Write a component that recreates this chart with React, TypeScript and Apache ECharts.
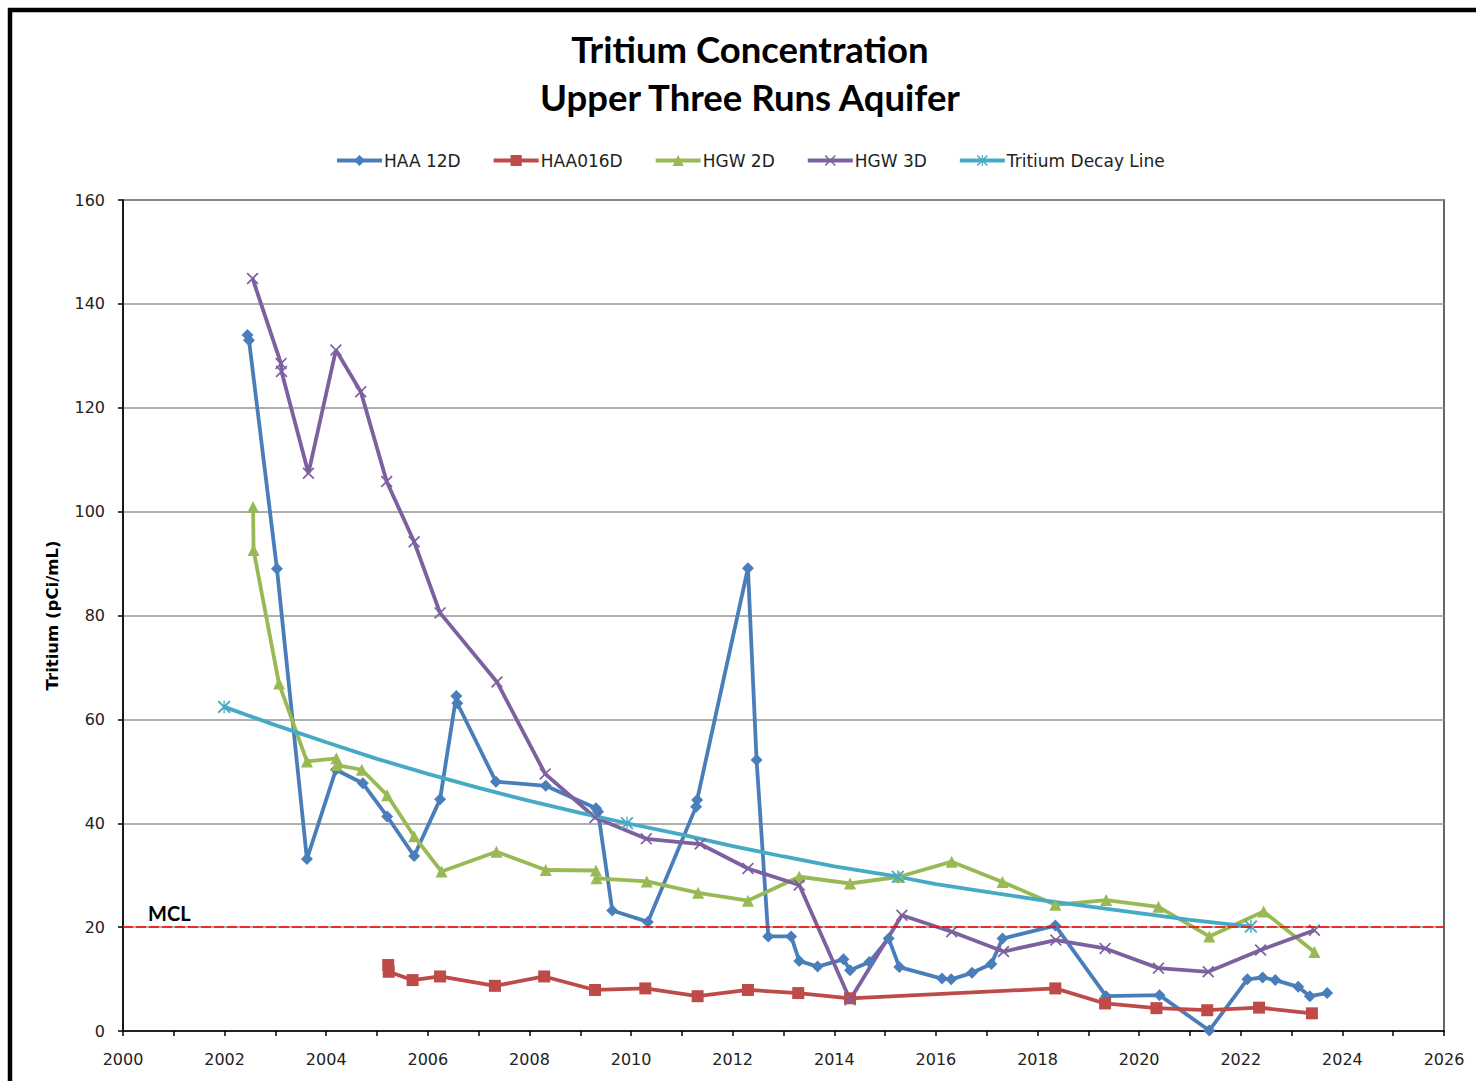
import React, { useEffect, useRef } from "react";
import * as echarts from "echarts";

// ---- Data ----
const haa12d: [number, number][] = [
  [2002.45, 134], [2002.48, 133], [2003.03, 89], [2003.62, 33.1], [2004.19, 50.3],
  [2004.72, 47.7], [2005.2, 41.3], [2005.73, 33.7], [2006.24, 44.6], [2006.56, 64.5],
  [2006.58, 63.1], [2007.34, 48], [2008.32, 47.2], [2009.31, 42.9], [2009.35, 42.2],
  [2009.63, 23.2], [2010.33, 21.0], [2011.28, 43.2], [2011.3, 44.5], [2012.3, 89.1],
  [2012.47, 52.2], [2012.7, 18.2], [2013.15, 18.2], [2013.31, 13.5], [2013.67, 12.4],
  [2014.18, 13.8], [2014.31, 11.7], [2014.69, 13.3], [2015.07, 17.8], [2015.28, 12.3],
  [2016.12, 10.1], [2016.3, 9.95], [2016.71, 11.2], [2017.09, 12.9], [2017.31, 17.8],
  [2018.35, 20.3], [2019.35, 6.7], [2020.4, 6.9], [2021.38, 0.1], [2022.13, 9.95],
  [2022.43, 10.3], [2022.68, 9.8], [2023.13, 8.5], [2023.36, 6.7], [2023.7, 7.3],
];

const haa016d: [number, number][] = [
  [2005.22, 12.7], [2005.23, 11.4], [2005.7, 9.8], [2006.24, 10.5], [2007.32, 8.7],
  [2008.29, 10.5], [2009.29, 7.9], [2010.28, 8.2], [2011.31, 6.7], [2012.3, 7.9],
  [2013.29, 7.3], [2014.31, 6.3], [2018.35, 8.2], [2019.33, 5.3], [2020.34, 4.4],
  [2021.34, 4.0], [2022.36, 4.5], [2023.4, 3.4],
];

const hgw2d: [number, number][] = [
  [2002.56, 100.9], [2002.57, 92.6], [2003.07, 66.9], [2003.62, 51.9], [2004.2, 52.5],
  [2004.21, 51.2], [2004.7, 50.3], [2005.2, 45.4], [2005.73, 37.5], [2006.27, 30.7],
  [2007.35, 34.5], [2008.32, 31.0], [2009.31, 30.9], [2009.32, 29.4], [2010.31, 28.8],
  [2011.32, 26.6], [2012.3, 25.1], [2013.31, 29.7], [2014.31, 28.4], [2015.28, 29.7],
  [2016.31, 32.6], [2017.31, 28.7], [2018.35, 24.3], [2019.35, 25.2], [2020.38, 23.9],
  [2021.38, 18.2], [2022.45, 23.0], [2023.45, 15.2],
];

const hgw3d: [number, number][] = [
  [2002.55, 144.9], [2003.11, 128.5], [2003.12, 127], [2003.65, 107.4], [2004.19, 131.1],
  [2004.68, 123.1], [2005.19, 105.8], [2005.73, 94.2], [2006.24, 80.5], [2007.36, 67.2],
  [2008.31, 49.5], [2009.29, 41.1], [2010.3, 37.0], [2011.36, 36.0], [2012.3, 31.3],
  [2013.31, 28.1], [2014.31, 6.0], [2015.33, 22.3], [2016.31, 19.1], [2017.33, 15.3],
  [2018.36, 17.5], [2019.33, 15.9], [2020.38, 12.1], [2021.36, 11.4], [2022.39, 15.6],
  [2023.45, 19.4],
];

// decay line: marked points and unmarked points along the drawn curve
const decayMarked: [number, number][] = [
  [2001.99, 62.4], [2009.92, 40.0], [2015.25, 29.7], [2022.2, 20.1],
];
const decayCurve: [number, number][] = [
  [2003, 58.9], [2004, 55.6], [2005, 52.4], [2006, 49.5], [2007, 46.8], [2008, 44.3],
  [2009, 42.0], [2011, 37.8], [2012, 35.6], [2013, 33.6], [2014, 31.7],
  [2016, 28.3], [2017, 26.8], [2018, 25.3], [2019, 24.0], [2020, 22.7], [2021, 21.4],
];

const mclValue = 20;
const yearTicks = { min: 2000, max: 2026, step: 2 };
const valueTicks = { min: 0, max: 160, step: 20 };

const titleLines = ["Tritium Concentration", "Upper Three Runs Aquifer"];
const seriesNames = ["HAA 12D", "HAA016D", "HGW 2D", "HGW 3D", "Tritium Decay Line"];

// ---- Styles ----
const C_BLUE = "#4A7EBB";
const C_RED = "#BE4B48";
const C_GREEN = "#98B954";
const C_PURPLE = "#7D60A0";
const C_CYAN = "#46AAC5";

const X_SYMBOL =
  "path://M2,0 L10,8 L18,0 L20,2 L12,10 L20,18 L18,20 L10,12 L2,20 L0,18 L8,10 L0,2 Z";
const STAR_SYMBOL =
  "path://M2,0 L10,8 L18,0 L20,2 L12,10 L20,18 L18,20 L10,12 L2,20 L0,18 L8,10 L0,2 Z M9,0 L11,0 L11,20 L9,20 Z";

export default function App() {
  const ref = useRef<HTMLDivElement>(null);

  useEffect(() => {
    if (!ref.current) return;
    const chart = echarts.init(ref.current, undefined, { renderer: "svg" });

    const lineBase = (name: string, data: any[], color: string, symbol: string, size: number) => ({
      name,
      type: "line",
      data,
      symbol,
      symbolSize: size,
      showSymbol: true,
      lineStyle: { color, width: 3.8 },
      itemStyle: { color, borderColor: color, borderWidth: 0 },
      emphasis: { disabled: true },
    });

    const decayData = [
      ...decayMarked.map((p) => ({ value: p })),
      ...decayCurve.map((p) => ({ value: p, symbol: "none" })),
    ].sort((a, b) => a.value[0] - b.value[0]);

    const titleStyle = {
      fontFamily: "Lato",
      fontWeight: "bold",
      fontSize: 36.5,
      fill: "#000",
      textAlign: "center",
      textVerticalAlign: "middle",
    };

    const option: any = {
      animation: false,
      backgroundColor: "#ffffff",
      graphic: [
        {
          type: "rect",
          shape: { x: 10, y: 10, width: 1500, height: 1100 },
          style: { fill: "none", stroke: "#000", lineWidth: 4.5 },
          silent: true,
        },
        { type: "text", x: 750, y: 49, style: { ...titleStyle, text: titleLines[0] } },
        { type: "text", x: 750, y: 97, style: { ...titleStyle, text: titleLines[1] } },
      ],
      legend: {
        data: seriesNames,
        left: 330,
        top: 147,
        itemWidth: 45,
        itemHeight: 14,
        itemGap: 31,
        lineStyle: { width: 4 },
        textStyle: { fontFamily: "DejaVu Sans", fontSize: 17, color: "#222", padding: [0, 0, 0, -3] },
      },
      grid: {
        left: 123,
        right: 32,
        top: 200,
        bottom: 50,
        show: true,
        borderColor: "#333",
        borderWidth: 1.5,
        backgroundColor: "transparent",
      },
      xAxis: {
        type: "value",
        min: yearTicks.min,
        max: yearTicks.max,
        interval: yearTicks.step,
        axisLine: { show: true, lineStyle: { color: "#000", width: 1.5 } },
        axisTick: { show: true, length: 5, lineStyle: { color: "#000", width: 1.5 } },
        minorTick: { show: true, splitNumber: 2, length: 5, lineStyle: { color: "#000", width: 1.5 } },
        splitLine: { show: false },
        axisLabel: {
          fontFamily: "DejaVu Sans",
          fontSize: 16,
          color: "#222",
          margin: 20,
          formatter: (v: number) => String(v),
        },
      },
      yAxis: {
        type: "value",
        min: valueTicks.min,
        max: valueTicks.max,
        interval: valueTicks.step,
        name: "Tritium (pCi/mL)",
        nameLocation: "middle",
        nameRotate: 90,
        nameGap: 62,
        nameTextStyle: { fontFamily: "DejaVu Sans", fontWeight: "bold", fontSize: 16.5, color: "#000" },
        axisLine: { show: true, lineStyle: { color: "#000", width: 1.5 } },
        axisTick: { show: true, length: 5, lineStyle: { color: "#000", width: 1.5 } },
        splitLine: { show: true, lineStyle: { color: "#959595", width: 1.5 } },
        axisLabel: { fontFamily: "DejaVu Sans", fontSize: 16, color: "#222", margin: 18 },
      },
      series: [
        {
          ...lineBase(seriesNames[0], haa12d, C_BLUE, "diamond", 12),
          markLine: {
            silent: true,
            symbol: ["none", "none"],
            data: [{ yAxis: mclValue }],
            lineStyle: { color: "#FF0000", width: 1.5, type: [10, 3] },
            label: {
              show: true,
              formatter: "MCL",
              position: "insideStartTop",
              distance: [25, 4],
              fontFamily: "Lato",
              fontWeight: "bold",
              fontSize: 20,
              color: "#000",
            },
            emphasis: { disabled: true },
          },
        },
        lineBase(seriesNames[1], haa016d, C_RED, "rect", 12),
        lineBase(seriesNames[2], hgw2d, C_GREEN, "triangle", 12),
        lineBase(seriesNames[3], hgw3d, C_PURPLE, X_SYMBOL, 12),
        {
          ...lineBase(seriesNames[4], decayData, C_CYAN, STAR_SYMBOL, 13),
          smooth: false,
        },
      ],
    };

    chart.setOption(option);
    return () => chart.dispose();
  }, []);

  return (
    <div
      ref={ref}
      style={{ position: "fixed", left: 0, top: 0, width: 1476, height: 1081, background: "#fff" }}
    />
  );
}
